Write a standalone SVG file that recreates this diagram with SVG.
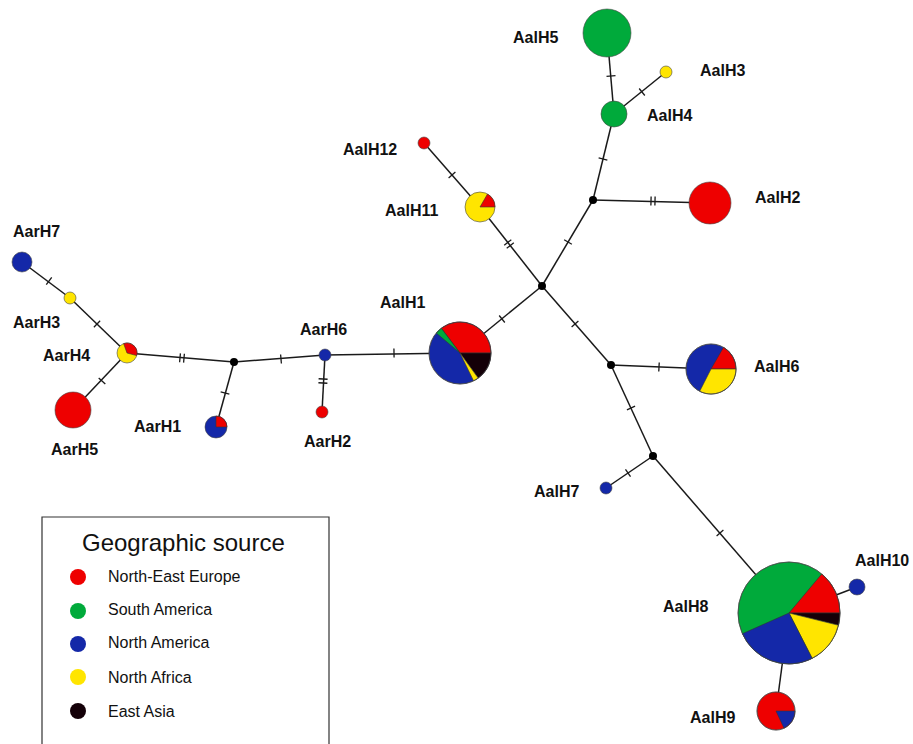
<svg xmlns="http://www.w3.org/2000/svg" width="913" height="744" viewBox="0 0 913 744">
<style>
.e{stroke:#1a1a1a;stroke-width:1.5;fill:none}
.t{stroke:#1a1a1a;stroke-width:1.3}
.n{stroke:#444;stroke-width:0.6}
.w{stroke:#333;stroke-width:0.6}
.R{fill:#ee0000}.G{fill:#00aa3b}.B{fill:#1428a8}.Y{fill:#ffe500}.K{fill:#140008}
.j{fill:#000}
.lb{font-family:"Liberation Sans",Arial,sans-serif;font-weight:bold;font-size:16px;fill:#111}
.lg{font-family:"Liberation Sans",Arial,sans-serif;font-size:16px;fill:#111}
</style>
<defs>
<g id="t1"><line class="t" x1="0" y1="-4.5" x2="0" y2="4.5"/></g>
<g id="t2"><line class="t" x1="-2" y1="-4.5" x2="-2" y2="4.5"/><line class="t" x1="2" y1="-4.5" x2="2" y2="4.5"/></g>
</defs>
<rect width="913" height="744" fill="#fff"/>
<g id="connectors">
<line class="e" x1="607" y1="33" x2="614" y2="114"/>
<line class="e" x1="666" y1="72" x2="614" y2="114"/>
<line class="e" x1="614" y1="114" x2="593" y2="200"/>
<line class="e" x1="593" y1="200" x2="710" y2="203"/>
<line class="e" x1="593" y1="200" x2="542" y2="286"/>
<line class="e" x1="542" y1="286" x2="480" y2="207"/>
<line class="e" x1="480" y1="207" x2="424" y2="143"/>
<line class="e" x1="542" y1="286" x2="460" y2="353"/>
<line class="e" x1="542" y1="286" x2="611" y2="365"/>
<line class="e" x1="611" y1="365" x2="711" y2="369"/>
<line class="e" x1="611" y1="365" x2="653" y2="456"/>
<line class="e" x1="653" y1="456" x2="606" y2="488"/>
<line class="e" x1="653" y1="456" x2="789" y2="613"/>
<line class="e" x1="789" y1="613" x2="857" y2="587"/>
<line class="e" x1="789" y1="613" x2="776" y2="711"/>
<line class="e" x1="460" y1="353" x2="325" y2="355"/>
<line class="e" x1="325" y1="355" x2="234" y2="362"/>
<line class="e" x1="325" y1="355" x2="322" y2="412"/>
<line class="e" x1="234" y1="362" x2="216" y2="427"/>
<line class="e" x1="234" y1="362" x2="127" y2="353"/>
<line class="e" x1="127" y1="353" x2="70" y2="298"/>
<line class="e" x1="70" y1="298" x2="22" y2="262"/>
<line class="e" x1="127" y1="353" x2="73" y2="410"/>
<use href="#t1" transform="translate(611,76) rotate(85)"/>
<use href="#t1" transform="translate(642,92) rotate(141)"/>
<use href="#t1" transform="translate(603,159) rotate(104)"/>
<use href="#t2" transform="translate(653,201) rotate(1.5)"/>
<use href="#t1" transform="translate(568,242) rotate(121)"/>
<use href="#t2" transform="translate(509,244) rotate(52)"/>
<use href="#t1" transform="translate(452,175) rotate(49)"/>
<use href="#t1" transform="translate(502,319) rotate(141)"/>
<use href="#t1" transform="translate(575,324) rotate(49)"/>
<use href="#t1" transform="translate(659,367) rotate(3)"/>
<use href="#t1" transform="translate(631,408) rotate(65)"/>
<use href="#t1" transform="translate(628,473) rotate(146)"/>
<use href="#t1" transform="translate(720,533) rotate(49)"/>
<use href="#t1" transform="translate(394,353) rotate(-1)"/>
<use href="#t1" transform="translate(281,359) rotate(-5)"/>
<use href="#t2" transform="translate(323,381) rotate(93)"/>
<use href="#t1" transform="translate(225,393) rotate(105)"/>
<use href="#t2" transform="translate(182,358) rotate(5)"/>
<use href="#t1" transform="translate(97,324) rotate(44)"/>
<use href="#t1" transform="translate(49,281) rotate(37)"/>
<use href="#t1" transform="translate(102,381) rotate(133)"/>
</g>
<g id="junctions">
<circle class="j" cx="593" cy="200" r="4"/>
<circle class="j" cx="542" cy="286" r="4"/>
<circle class="j" cx="611" cy="365" r="4"/>
<circle class="j" cx="653" cy="456" r="4"/>
<circle class="j" cx="234" cy="362" r="4"/>
</g>
<g id="AalH5"><circle class="G n" cx="607" cy="33" r="24"/><text class="lb" x="513" y="43">AalH5</text></g>
<g id="AalH3"><circle class="Y n" cx="666" cy="72" r="6"/><text class="lb" x="700" y="76">AalH3</text></g>
<g id="AalH4"><circle class="G n" cx="614" cy="114" r="13"/><text class="lb" x="647" y="121">AalH4</text></g>
<g id="AalH2"><circle class="R n" cx="710" cy="203" r="21"/><text class="lb" x="755" y="203">AalH2</text></g>
<g id="AalH12"><circle class="R n" cx="424" cy="143" r="6"/><text class="lb" x="343" y="155">AalH12</text></g>
<g id="AalH11"><circle class="Y n" cx="480" cy="207" r="15"/><path class="R w" d="M480,207 L487.5,194 A15,15 0 0 1 495,207 Z"/><text class="lb" x="385" y="216">AalH11</text></g>
<g id="AalH1">
<circle class="B n" cx="460" cy="353" r="31"/>
<path class="R w" d="M460,353 L441.3,328.2 A31,31 0 0 1 491,353 Z"/>
<path class="K w" d="M460,353 L491,353 A31,31 0 0 1 478.2,378.1 Z"/>
<path class="Y w" d="M460,353 L478.2,378.1 A31,31 0 0 1 473.6,380.9 Z"/>
<path class="G w" d="M460,353 L436.3,333.1 A31,31 0 0 1 441.3,328.2 Z"/>
<circle class="n" cx="460" cy="353" r="31" fill="none"/>
<text class="lb" x="380" y="308">AalH1</text>
</g>
<g id="AalH6">
<circle class="B n" cx="711" cy="369" r="25"/>
<path class="R w" d="M711,369 L723.5,347.3 A25,25 0 0 1 736,369 Z"/>
<path class="Y w" d="M711,369 L736,369 A25,25 0 0 1 699.7,391.3 Z"/>
<circle class="n" cx="711" cy="369" r="25" fill="none"/>
<text class="lb" x="754" y="372">AalH6</text>
</g>
<g id="AalH7"><circle class="B n" cx="606" cy="488" r="6"/><text class="lb" x="534" y="497">AalH7</text></g>
<g id="AalH8">
<circle class="G n" cx="789" cy="613" r="51"/>
<path class="R w" d="M789,613 L821.8,573.9 A51,51 0 0 1 840,613 Z"/>
<path class="K w" d="M789,613 L840,613 A51,51 0 0 1 838.5,625.3 Z"/>
<path class="Y w" d="M789,613 L838.5,625.3 A51,51 0 0 1 812.2,658.4 Z"/>
<path class="B w" d="M789,613 L812.2,658.4 A51,51 0 0 1 742.4,633.7 Z"/>
<circle class="n" cx="789" cy="613" r="51" fill="none"/>
<text class="lb" x="663" y="612">AalH8</text>
</g>
<g id="AalH10"><circle class="B n" cx="857" cy="587" r="8"/><text class="lb" x="855" y="566">AalH10</text></g>
<g id="AalH9">
<circle class="R n" cx="776" cy="711" r="19"/>
<path class="B w" d="M776,711 L795,711 A19,19 0 0 1 784,728.2 Z"/>
<circle class="n" cx="776" cy="711" r="19" fill="none"/>
<text class="lb" x="690" y="723">AalH9</text>
</g>
<g id="AarH6"><circle class="B n" cx="325" cy="355" r="6"/><text class="lb" x="300" y="335">AarH6</text></g>
<g id="AarH2"><circle class="R n" cx="322" cy="412" r="6"/><text class="lb" x="304" y="447">AarH2</text></g>
<g id="AarH1">
<circle class="B n" cx="216" cy="427" r="11"/>
<path class="R w" d="M216,427 L216,416 A11,11 0 0 1 227,427 Z"/>
<text class="lb" x="134" y="432">AarH1</text>
</g>
<g id="AarH4">
<circle class="Y n" cx="127" cy="353" r="10"/>
<path class="R w" d="M127,353 L123.6,343.6 A10,10 0 0 1 136.7,355.6 Z"/>
<text class="lb" x="43" y="361">AarH4</text>
</g>
<g id="AarH3"><circle class="Y n" cx="70" cy="298" r="6"/><text class="lb" x="13" y="328">AarH3</text></g>
<g id="AarH7"><circle class="B n" cx="22" cy="262" r="10"/><text class="lb" x="13" y="237">AarH7</text></g>
<g id="AarH5"><circle class="R n" cx="73" cy="410" r="18"/><text class="lb" x="51" y="455">AarH5</text></g>
<g id="legend">
<path d="M42,744 L42,517 L329,517 L329,744" fill="none" stroke="#333" stroke-width="1.2"/>
<text class="lg" x="82" y="551" font-size="24" style="font-size:24px">Geographic source</text>
<circle class="R" cx="78" cy="577" r="8"/><text class="lg" x="108" y="582">North-East Europe</text>
<circle class="G" cx="78" cy="611" r="8"/><text class="lg" x="108" y="615">South America</text>
<circle class="B" cx="78" cy="644" r="8"/><text class="lg" x="108" y="648">North America</text>
<circle class="Y" cx="78" cy="677" r="8"/><text class="lg" x="108" y="683">North Africa</text>
<circle class="K" cx="78" cy="711" r="8"/><text class="lg" x="108" y="717">East Asia</text>
</g>
</svg>
